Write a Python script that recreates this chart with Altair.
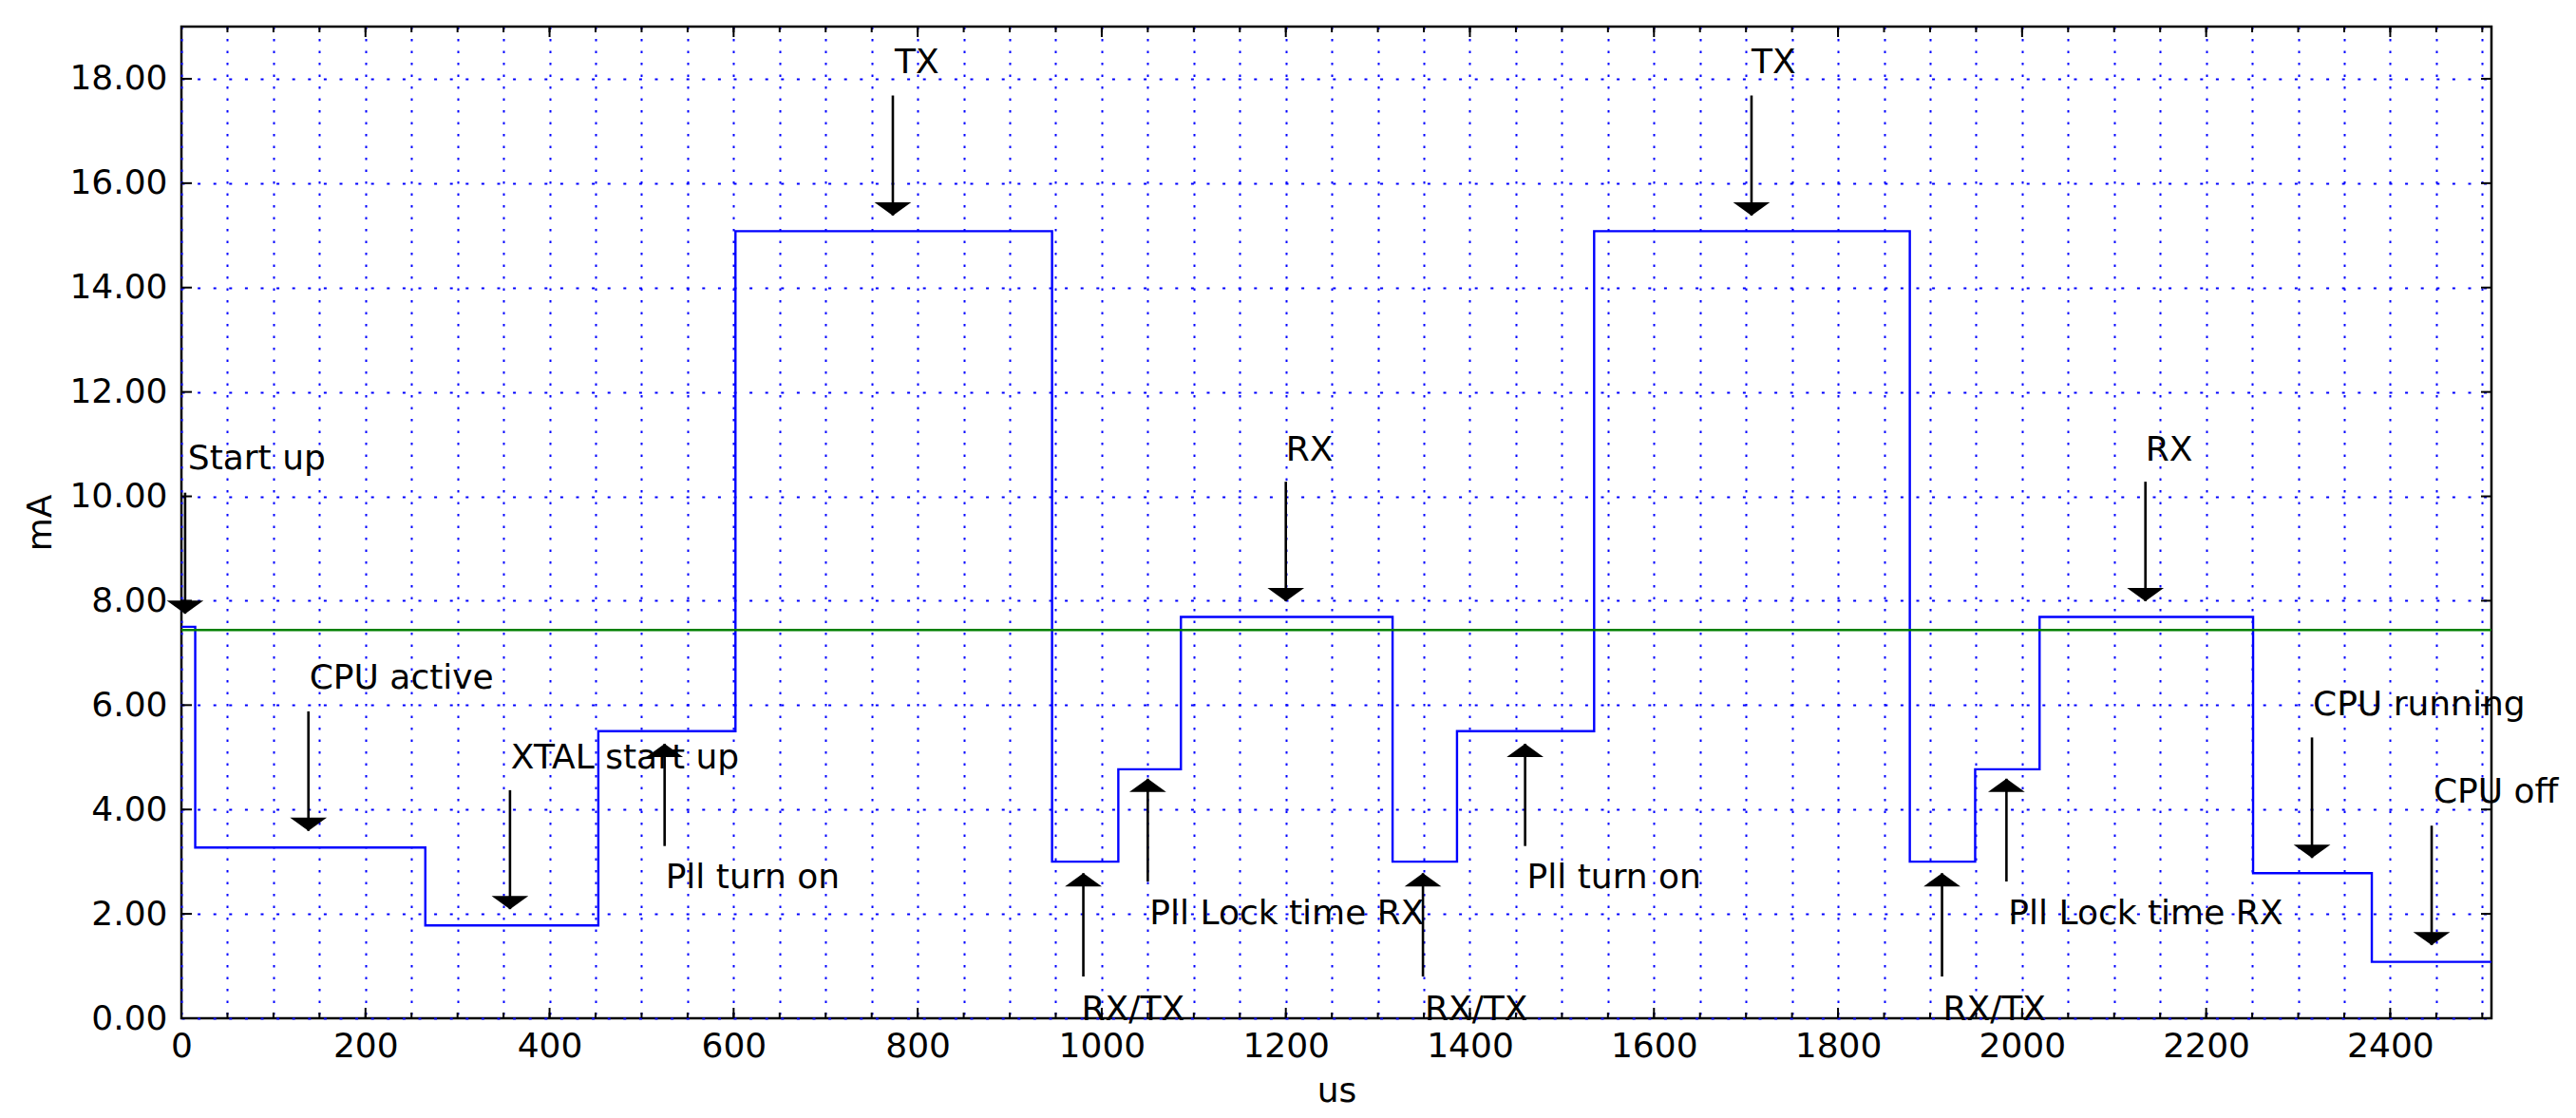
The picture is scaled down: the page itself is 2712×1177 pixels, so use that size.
import altair as alt
import pandas as pd

# ---- data ----
step_x = [0, 15, 265, 453, 602, 946, 1018, 1086, 1316, 1386, 1535, 1878, 1949, 2019, 2251, 2380, 2510]
step_y = [7.50, 3.27, 1.78, 5.50, 15.08, 3.00, 4.77, 7.69, 3.00, 5.50, 15.08, 3.00, 4.77, 7.69, 2.78, 1.08, 1.08]
avg_y = [7.44]

ann_text = ["Start up", "CPU active", "XTAL start up", "Pll turn on", "TX", "RX/TX",
            "Pll Lock time RX", "RX", "RX/TX", "Pll turn on", "TX", "RX/TX",
            "Pll Lock time RX", "RX", "CPU running", "CPU off"]
ann_x = [7, 139, 358, 526, 775, 978, 1052, 1200, 1351, 1462, 1706, 1914, 1985, 2134, 2316, 2447]
ann_y = [10.52, 6.31, 4.79, 2.50, 18.11, -0.04, 1.80, 10.69, -0.04, 2.50, 18.11, -0.04, 1.80, 10.69, 5.81, 4.14]
arrow_x = [4, 138, 357, 525, 773, 980, 1050, 1200, 1349, 1460, 1706, 1913, 1983, 2134, 2315, 2445]
arrow_from = [10.07, 5.88, 4.37, 3.30, 17.68, 0.80, 2.62, 10.28, 0.80, 3.30, 17.68, 0.80, 2.62, 10.28, 5.38, 3.69]
arrow_to = [7.75, 3.59, 2.09, 5.26, 15.38, 2.78, 4.59, 7.99, 2.78, 5.26, 15.38, 2.78, 4.59, 7.99, 3.07, 1.40]

x_major = [0, 200, 400, 600, 800, 1000, 1200, 1400, 1600, 1800, 2000, 2200, 2400]
x_minor = list(range(0, 2511, 50))
y_major = [0, 2, 4, 6, 8, 10, 12, 14, 16, 18]

W, H = 2432, 1044
FONT = "DejaVu Sans"
FS = 36

step_df = pd.DataFrame({"t": step_x, "i": step_y})
avg_df = pd.DataFrame({"avg": avg_y})
ann_df = pd.DataFrame({"label": ann_text, "x": ann_x, "y": ann_y})
arr_df = pd.DataFrame({"x": arrow_x, "y0": arrow_from, "y1": arrow_to})
arr_df["dir"] = ["down" if a > b else "up" for a, b in zip(arrow_from, arrow_to)]
xmaj_df = pd.DataFrame({"t": x_major})
xmin_df = pd.DataFrame({"t": x_minor})
ymaj_df = pd.DataFrame({"i": y_major})

xscale = alt.Scale(domain=[0, 2510], nice=False, zero=False)
yscale = alt.Scale(domain=[0, 19], nice=False, zero=False)

x_axis = alt.Axis(
    values=x_minor,
    labelExpr="datum.value % 200 === 0 ? format(datum.value, 'd') : ''",
    grid=True, gridColor="#0000ff", gridDash=[2.5, 10], gridWidth=2, gridOpacity=1,
    ticks=False, domain=False, labelOverlap=False, labelFlush=False,
    labelFont=FONT, labelFontSize=FS, labelColor="black", labelPadding=12,
    title="us", titleFont=FONT, titleFontSize=FS, titleFontWeight="normal", titleColor="black",
    titleY=87, titleBaseline="alphabetic",
)
y_axis = alt.Axis(
    values=y_major, format=".2f",
    grid=True, gridColor="#0000ff", gridDash=[3, 13.6], gridWidth=2, gridOpacity=1,
    ticks=False, domain=False, labelOverlap=False, labelFlush=False,
    labelFont=FONT, labelFontSize=FS, labelColor="black", labelPadding=15,
    title="mA", titleFont=FONT, titleFontSize=FS, titleFontWeight="normal", titleColor="black",
    titleX=-138, titleY=H / 2, titleBaseline="alphabetic", titleAlign="center",
)

step = alt.Chart(step_df).mark_line(interpolate="step-after", color="#0000ff", strokeWidth=2.4).encode(
    x=alt.X("t:Q", scale=xscale, axis=x_axis),
    y=alt.Y("i:Q", scale=yscale, axis=y_axis),
)

avg = alt.Chart(avg_df).mark_rule(color="#008000", strokeWidth=2.5).encode(
    y=alt.Y("avg:Q", scale=yscale),
)

shafts = alt.Chart(arr_df).mark_rule(color="black", strokeWidth=2.6).encode(
    x=alt.X("x:Q", scale=xscale),
    y=alt.Y("y0:Q", scale=yscale),
    y2="y1:Q",
)

path_down = "M -1 -0.72 L 1 -0.72 L 0 0 Z"
path_up = "M -1 0.72 L 1 0.72 L 0 0 Z"

heads_down = alt.Chart(arr_df).transform_filter("datum.dir == 'down'").mark_point(
    shape=path_down, filled=True, color="black", size=1500, opacity=1, strokeWidth=0
).encode(x=alt.X("x:Q", scale=xscale), y=alt.Y("y1:Q", scale=yscale))

heads_up = alt.Chart(arr_df).transform_filter("datum.dir == 'up'").mark_point(
    shape=path_up, filled=True, color="black", size=1500, opacity=1, strokeWidth=0
).encode(x=alt.X("x:Q", scale=xscale), y=alt.Y("y1:Q", scale=yscale))

texts = alt.Chart(ann_df).mark_text(
    align="left", baseline="alphabetic", font=FONT, fontSize=FS, color="black"
).encode(x=alt.X("x:Q", scale=xscale), y=alt.Y("y:Q", scale=yscale), text="label:N")

# inward ticks on all four sides
tk = dict(color="black", strokeWidth=2)
xb_maj = alt.Chart(xmaj_df).mark_rule(**tk).encode(x=alt.X("t:Q", scale=xscale), y=alt.value(H), y2=alt.value(H - 11))
xt_maj = alt.Chart(xmaj_df).mark_rule(**tk).encode(x=alt.X("t:Q", scale=xscale), y=alt.value(0), y2=alt.value(11))
xb_min = alt.Chart(xmin_df).mark_rule(**tk).encode(x=alt.X("t:Q", scale=xscale), y=alt.value(H), y2=alt.value(H - 6))
xt_min = alt.Chart(xmin_df).mark_rule(**tk).encode(x=alt.X("t:Q", scale=xscale), y=alt.value(0), y2=alt.value(6))
yl_maj = alt.Chart(ymaj_df).mark_rule(**tk).encode(y=alt.Y("i:Q", scale=yscale), x=alt.value(0), x2=alt.value(11))
yr_maj = alt.Chart(ymaj_df).mark_rule(**tk).encode(y=alt.Y("i:Q", scale=yscale), x=alt.value(W), x2=alt.value(W - 11))

chart = alt.layer(
    step, avg, shafts, heads_down, heads_up, texts,
    xb_maj, xt_maj, xb_min, xt_min, yl_maj, yr_maj,
).properties(
    width=W, height=H,
    autosize=alt.AutoSizeParams(type="none"),
    padding={"left": 183, "top": 20, "right": 80, "bottom": 100},
    background="white",
).configure_view(stroke="black", strokeWidth=2.5)

chart.save("out.html", embed_options={"renderer": "svg", "actions": False})
